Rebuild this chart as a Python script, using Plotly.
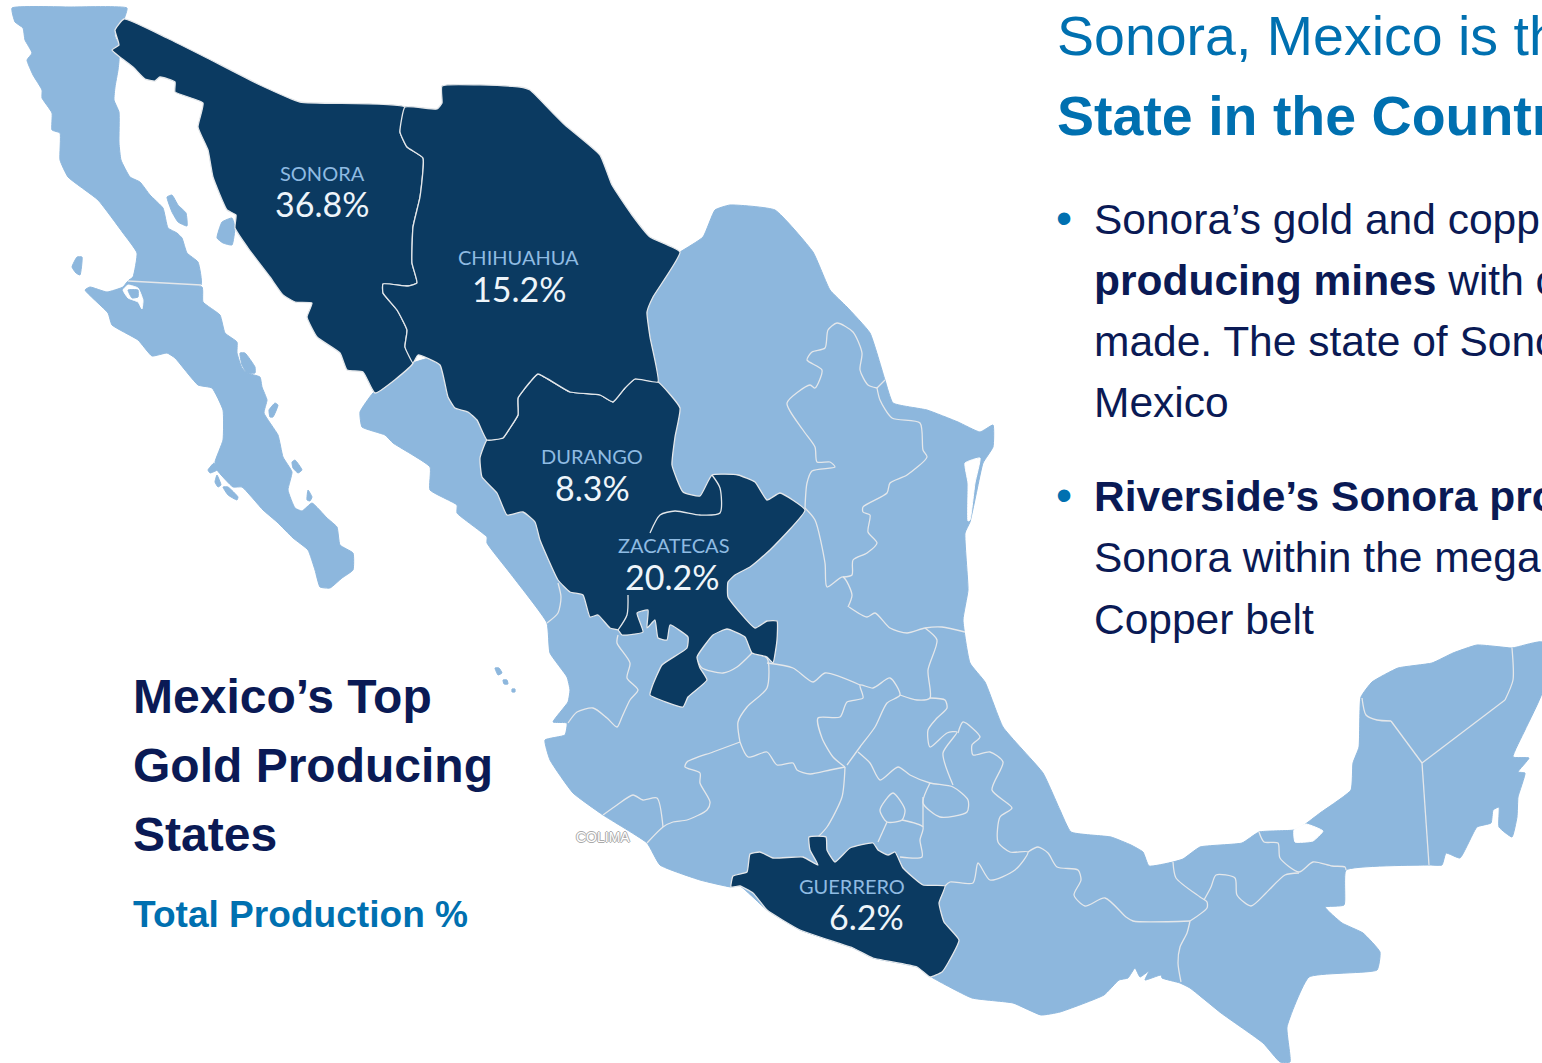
import plotly.graph_objects as go

# outlines, in image pixels
BAJA_NORTE = [(12, 8), (70, 7), (127, 8), (124, 19), (115, 30), (115, 37), (119, 45), (112, 51), (119, 57), (118, 70), (115, 87),
              (114, 100), (119, 112), (119, 143), (121, 160), (130, 177), (140, 182), (150, 195), (163, 208), (168, 228),
              (177, 233), (182, 238), (187, 253), (198, 262), (201, 285), (128, 281), (133, 277), (137, 253), (123, 233),
              (98, 200), (68, 177), (60, 160), (60, 133), (52, 130), (52, 113), (42, 98), (42, 90), (33, 75), (27, 60),
              (32, 53), (25, 40), (23, 28), (15, 22)]
BAJA_SUR = [(130, 280), (202, 287), (203, 302), (220, 315), (225, 333), (237, 342), (237, 353), (242, 368), (247, 373),
            (260, 377), (262, 387), (267, 400), (264, 413), (278, 435), (283, 457), (292, 472), (288, 490), (295, 508),
            (302, 511), (312, 503), (327, 518), (337, 527), (340, 545), (353, 553), (353, 570), (342, 578), (330, 588),
            (320, 587), (315, 570), (308, 550), (293, 538), (277, 522), (263, 510), (242, 487), (233, 487), (217, 470),
            (215, 462), (223, 440), (223, 410), (212, 388), (198, 385), (175, 358), (167, 353), (152, 356), (138, 340),
            (112, 325), (108, 313), (85, 290), (90, 287), (107, 292), (123, 287), (127, 282)]
LAGOON_OJO = [(123, 290), (128, 298), (138, 302), (142, 309), (143, 300), (138, 288), (128, 285)]
ISLANDS = [
    [(128, 290), (138, 290), (138, 297), (132, 298)],
    [(167, 197), (172, 195), (178, 205), (186, 213), (187, 226), (178, 222), (172, 212)],
    [(217, 238), (222, 222), (232, 218), (235, 227), (232, 245), (223, 243)],
    [(72, 267), (77, 257), (82, 257), (80, 275), (76, 273)],
    [(240, 353), (245, 353), (255, 367), (255, 373), (247, 373), (242, 365)],
    [(270, 417), (269, 410), (275, 403), (278, 405), (273, 417)],
    [(292, 462), (295, 460), (302, 470), (298, 473), (293, 468)],
    [(307, 500), (308, 490), (312, 497), (310, 501)],
    [(223, 487), (228, 487), (238, 497), (237, 500), (228, 495)],
    [(215, 482), (217, 475), (221, 485), (218, 487)],
    [(208, 470), (214, 463), (217, 470), (210, 473)],
    [(495, 668), (499, 668), (502, 673), (498, 675)],
    [(503, 680), (507, 680), (508, 684), (504, 684)],
    [(512, 689), (515, 689), (515, 692), (512, 692)],
]
MAINLAND = [(373, 393), (360, 412), (362, 427), (385, 435), (393, 443), (430, 467), (430, 490), (457, 505), (457, 513),
            (487, 537), (487, 543), (510, 573), (547, 623), (550, 653), (567, 677), (570, 690), (568, 702), (553, 722),
            (567, 723), (565, 735), (545, 740), (550, 760), (573, 793), (603, 815), (647, 843), (660, 865), (700, 880),
            (731, 887), (740, 886), (767, 910), (800, 930), (853, 948), (873, 958), (917, 967), (933, 978), (972, 998),
            (1013, 1003), (1041, 1015), (1060, 1012), (1104, 995), (1119, 980), (1128, 978), (1135, 968), (1140, 977),
            (1149, 971), (1145, 980), (1161, 975), (1162, 978), (1180, 983), (1190, 988), (1221, 1013), (1263, 1043),
            (1280, 1062), (1290, 1062), (1287, 1027), (1309, 977), (1377, 970), (1380, 952), (1363, 933), (1342, 923),
            (1325, 907), (1344, 905), (1346, 870), (1429, 865), (1442, 865), (1446, 853), (1460, 858), (1477, 827),
            (1491, 823), (1493, 810), (1499, 807), (1499, 827), (1512, 837), (1517, 817), (1518, 797), (1525, 773),
            (1518, 772), (1529, 758), (1513, 757), (1525, 730), (1542, 693), (1542, 642), (1517, 647), (1512, 648),
            (1477, 645), (1453, 653), (1432, 663), (1398, 668), (1372, 682), (1361, 697), (1359, 747), (1353, 763),
            (1351, 790), (1320, 813), (1304, 825), (1294, 830), (1259, 832), (1242, 843), (1200, 847), (1183, 859),
            (1173, 862), (1149, 866), (1143, 852), (1131, 845), (1111, 837), (1071, 832), (1060, 810), (1043, 773),
            (1003, 727), (985, 682), (970, 663), (963, 620), (968, 590), (965, 533), (970, 522), (977, 490), (983, 463),
            (993, 447), (993, 425), (980, 432), (958, 422), (927, 410), (893, 403), (885, 380), (870, 333), (847, 307),
            (830, 290), (813, 252), (775, 210), (730, 205), (715, 210), (703, 237), (680, 252), (600, 300), (500, 340),
            (413, 363)]
LAGUNA_MADRE = [(965, 463), (968, 483), (968, 521), (970, 520), (975, 483), (980, 458)]
LAGUNA_TERMINOS = [(1294, 830), (1306, 824), (1323, 831), (1313, 841), (1295, 842)]

SONORA = [(124, 19), (167, 38), (207, 58), (260, 85), (300, 102), (405, 107), (400, 132), (407, 147), (423, 158),
          (420, 197), (413, 227), (412, 263), (417, 283), (408, 286), (383, 284), (383, 293), (397, 310), (407, 330),
          (405, 347), (413, 363), (375, 393), (363, 372), (347, 370), (340, 353), (317, 337), (307, 317), (312, 303),
          (295, 302), (283, 295), (270, 277), (248, 248), (235, 228), (236, 215), (227, 210), (213, 177), (208, 150),
          (198, 127), (203, 103), (175, 92), (175, 82), (160, 77), (155, 81), (145, 79), (133, 67), (112, 50), (119, 45),
          (115, 30)]
CHIHUAHUA = [(405, 107), (437, 109), (442, 103), (442, 86), (520, 87), (530, 90), (550, 110), (565, 125), (600, 155),
             (612, 185), (632, 215), (650, 237), (680, 252), (653, 297), (647, 312), (650, 337), (658, 382), (635, 379),
             (625, 388), (613, 402), (600, 395), (570, 392), (538, 374), (530, 382), (518, 398), (518, 415), (510, 428),
             (503, 438), (487, 440), (477, 420), (468, 412), (455, 408), (448, 397), (440, 365), (418, 355), (413, 363),
             (405, 347), (407, 330), (397, 310), (383, 293), (383, 284), (408, 286), (417, 283), (412, 263), (413, 227),
             (420, 197), (423, 158), (407, 147), (400, 132)]
DURANGO_ZACATECAS = [(487, 440), (480, 458), (482, 477), (497, 493), (507, 515), (523, 512), (535, 522), (540, 540),
                     (558, 580), (570, 592), (583, 595), (590, 617), (598, 615), (610, 628), (618, 630), (622, 635),
                     (643, 632), (637, 613), (648, 610), (647, 628), (655, 620), (658, 638), (667, 640), (670, 625),
                     (688, 637), (687, 648), (662, 665), (652, 687), (650, 695), (683, 707), (688, 697), (707, 680),
                     (700, 668), (697, 657), (713, 635), (727, 629), (745, 637), (752, 653), (767, 657), (773, 663),
                     (777, 640), (777, 621), (767, 621), (755, 628), (728, 597), (728, 582), (735, 575), (750, 567),
                     (770, 550), (805, 510), (780, 493), (767, 500), (755, 482), (738, 475), (712, 475), (700, 496),
                     (683, 492), (672, 465), (675, 437), (680, 408), (658, 382), (635, 379), (625, 388), (613, 402),
                     (600, 395), (570, 392), (538, 374), (530, 382), (518, 398), (518, 415), (510, 428), (503, 438)]
GUERRERO = [(809, 837), (826, 837), (827, 850), (835, 862), (850, 848), (873, 843), (878, 850), (888, 855), (895, 852),
            (903, 868), (923, 885), (945, 886), (939, 903), (944, 922), (959, 940), (948, 963), (942, 972), (930, 977),
            (917, 967), (873, 958), (853, 948), (800, 930), (767, 910), (753, 893), (740, 886), (731, 887), (733, 876),
            (747, 872), (750, 854), (760, 852), (773, 858), (803, 857), (818, 865), (810, 850)]

DURANGO_ZAC_BORDER = [(712, 475), (720, 488), (720, 513), (700, 515), (675, 511), (660, 515), (650, 533)]
DURANGO_JAL_BORDER = [(628, 595), (627, 615), (618, 630)]
STATE_BORDERS = [
    [(547, 623), (558, 613), (561, 597), (558, 583)],
    [(568, 723), (577, 712), (593, 708), (607, 718), (617, 727), (622, 717), (630, 700), (638, 690), (627, 678),
     (630, 663), (617, 643), (618, 635)],
    [(697, 660), (702, 668), (723, 673), (737, 667), (752, 653)],
    [(752, 653), (767, 658), (767, 688), (747, 707), (738, 722), (740, 742)],
    [(740, 742), (713, 752), (687, 762), (685, 767), (700, 773), (700, 783), (710, 802), (707, 810), (687, 820),
     (673, 822), (663, 827), (647, 843)],
    [(603, 815), (617, 805), (633, 795), (643, 800), (657, 798), (663, 827)],
    [(740, 742), (748, 757), (767, 752), (777, 765), (793, 763), (797, 770), (810, 774), (830, 770), (845, 767)],
    [(845, 767), (842, 797), (827, 827), (818, 837)],
    [(845, 767), (833, 757), (822, 738), (818, 718), (840, 717), (847, 702), (863, 698), (860, 685), (873, 688),
     (890, 678), (900, 695), (887, 703), (875, 727), (860, 747), (847, 765)],
    [(767, 663), (793, 668), (813, 682), (825, 673), (860, 685)],
    [(900, 695), (917, 700), (930, 698), (928, 670), (937, 640), (925, 628)],
    [(849, 607), (867, 617), (875, 613), (890, 628), (907, 633), (925, 628), (942, 627), (965, 632)],
    [(930, 698), (945, 700), (947, 708), (937, 718), (928, 730), (930, 747), (947, 733), (957, 732), (943, 753),
     (953, 785)],
    [(958, 733), (963, 722), (980, 737), (972, 745), (973, 755), (990, 752), (1003, 762), (992, 790), (1012, 808),
     (1000, 817), (998, 842), (1010, 852), (1028, 852), (1015, 870), (990, 880), (978, 863), (973, 883), (950, 882),
     (945, 886)],
    [(858, 752), (870, 763), (880, 780), (898, 767), (910, 775), (930, 783), (953, 787), (968, 800), (967, 812),
     (940, 817), (923, 803), (930, 783)],
    [(880, 810), (893, 793), (905, 810), (902, 820), (887, 822), (880, 810)],
    [(887, 822), (878, 842)],
    [(902, 820), (923, 827), (920, 840), (922, 857), (900, 857)],
    [(923, 827), (923, 797)],
    [(1028, 852), (1038, 847), (1048, 853), (1057, 867), (1078, 870), (1081, 880), (1074, 895), (1085, 906), (1105, 898),
     (1126, 917), (1133, 921), (1190, 921)],
    [(1190, 921), (1187, 933), (1180, 947), (1178, 963), (1181, 982)],
    [(1173, 862), (1176, 878), (1200, 897), (1207, 902), (1207, 908), (1190, 921)],
    [(1204, 900), (1211, 887), (1216, 875), (1235, 878), (1237, 895), (1251, 906), (1266, 893), (1285, 875), (1299, 873)],
    [(1259, 832), (1264, 842), (1278, 843), (1280, 858), (1299, 872), (1313, 862), (1332, 866), (1345, 867), (1346, 870)],
    [(1362, 698), (1366, 715), (1377, 720), (1391, 721)],
    [(1391, 721), (1422, 763)],
    [(1422, 763), (1429, 865)],
    [(1422, 763), (1505, 700)],
    [(1505, 700), (1513, 680), (1512, 648)],
    [(805, 508), (807, 483), (812, 471), (835, 467), (830, 462), (817, 462), (815, 447), (803, 430), (787, 403),
     (810, 385), (815, 388), (822, 370), (807, 360), (812, 352), (825, 348), (828, 330), (837, 323), (853, 332),
     (862, 353), (860, 370), (868, 385), (877, 388)],
    [(877, 388), (880, 400), (892, 418), (920, 423), (923, 450), (927, 457), (907, 475), (890, 483), (887, 493),
     (863, 507), (863, 512), (870, 515), (868, 532), (877, 543), (867, 553), (853, 560), (852, 575), (843, 577)],
    [(877, 388), (885, 380)],
    [(805, 508), (815, 520), (825, 563), (827, 587), (843, 577), (852, 595), (848, 607)],
]

STATE_NAMES = ["SONORA", "CHIHUAHUA", "DURANGO", "ZACATECAS", "GUERRERO"]
STATE_SHARES = ["36.8%", "15.2%", "8.3%", "20.2%", "6.2%"]
NAME_X = [322, 518, 592, 674, 852]
NAME_Y = [173, 257, 456, 545, 886]
SHARE_X = [322, 519, 592, 672, 866]
SHARE_Y = [203, 288, 487, 576, 916]

HEADLINE = ["Sonora, Mexico is th", "<b>State in the Countr</b>"]
BULLET_LINES = ["Sonora’s gold and copp", "<b>producing mines</b> with c", "made. The state of Sono", "Mexico",
                "<b>Riverside’s Sonora pro</b>", "Sonora within the mega", "Copper belt"]
BULLET_Y = [219, 280, 341, 402, 496, 557, 619]
LEFT_TITLE = ["Mexico’s Top", "Gold Producing", "States"]
LEFT_TITLE_Y = [696, 765, 834]

LIGHT = "#8db7dd"
DARK = "#0b3a61"
BORDER = "#e4e7ea"
BLUE = "#0070b0"
NAVY = "#0a1a55"
SANS = "Liberation Sans"


def add_region(fig, points, fill, line=LIGHT, width=1):
    fig.add_trace(go.Scatter(x=[p[0] for p in points] + [points[0][0]],
                             y=[p[1] for p in points] + [points[0][1]],
                             mode="lines", fill="toself", fillcolor=fill,
                             line=dict(color=line, width=width, shape="spline", smoothing=0.4), hoverinfo="skip"))


def add_border(fig, points, width=1.3):
    fig.add_trace(go.Scatter(x=[p[0] for p in points], y=[p[1] for p in points], mode="lines",
                             line=dict(color=BORDER, width=width, shape="spline", smoothing=0.7), hoverinfo="skip"))


def add_text(fig, x, y, text, size, color, family=SANS, **kwargs):
    fig.add_annotation(x=x, y=y, text=text, showarrow=False, xanchor=kwargs.pop("xanchor", "left"), yanchor="middle",
                       font=dict(size=size, color=color, family=family, **kwargs))


fig = go.Figure()
add_region(fig, MAINLAND, LIGHT)
add_region(fig, BAJA_NORTE, LIGHT)
add_region(fig, BAJA_SUR, LIGHT)
add_region(fig, LAGOON_OJO, "white", "white")
for island in ISLANDS:
    add_region(fig, island, LIGHT)
add_region(fig, LAGUNA_MADRE, "white", "white")
add_region(fig, LAGUNA_TERMINOS, "white", "white")
add_border(fig, [(128, 281), (201, 285)])
for border in STATE_BORDERS:
    add_border(fig, border)
add_region(fig, DURANGO_ZACATECAS, DARK, BORDER, 1.3)
add_region(fig, SONORA, DARK, BORDER, 1.3)
add_region(fig, CHIHUAHUA, DARK, BORDER, 1.3)
add_region(fig, GUERRERO, DARK, BORDER, 1.3)
add_border(fig, DURANGO_ZAC_BORDER)
add_border(fig, DURANGO_JAL_BORDER)

for name, share, nx, ny, sx, sy in zip(STATE_NAMES, STATE_SHARES, NAME_X, NAME_Y, SHARE_X, SHARE_Y):
    add_text(fig, nx, ny, name, 20, "#8fbbe2", "Lato", xanchor="center")
    add_text(fig, sx, sy, share, 34, "#eef5fa", "Lato", xanchor="center")
add_text(fig, 603, 837, "COLIMA", 14, "white", xanchor="center",
         shadow="1px 0 #aaa, -1px 0 #aaa, 0 1px #aaa, 0 -1px #aaa")

for line, y in zip(HEADLINE, [36, 116]):
    add_text(fig, 1055, y, line, 55.5, BLUE)
for y in [BULLET_Y[0] - 1, BULLET_Y[4] - 1]:
    add_text(fig, 1054, y, "•", 46, BLUE)
for line, y in zip(BULLET_LINES, BULLET_Y):
    add_text(fig, 1092, y, line, 42.5, NAVY)
for line, y in zip(LEFT_TITLE, LEFT_TITLE_Y):
    add_text(fig, 131, y, f"<b>{line}</b>", 48, NAVY)
add_text(fig, 131, 914, "<b>Total Production %</b>", 37.1, BLUE)

fig.update_layout(width=1542, height=1063, margin=dict(l=0, r=0, t=0, b=0), showlegend=False,
                  plot_bgcolor="white", paper_bgcolor="white")
fig.update_xaxes(range=[0, 1542], visible=False, fixedrange=True)
fig.update_yaxes(range=[1063, 0], visible=False, fixedrange=True)
fig.write_html("out.html", config=dict(displayModeBar=False),
               post_script="document.body.style.margin='0';document.body.style.overflow='hidden';")
